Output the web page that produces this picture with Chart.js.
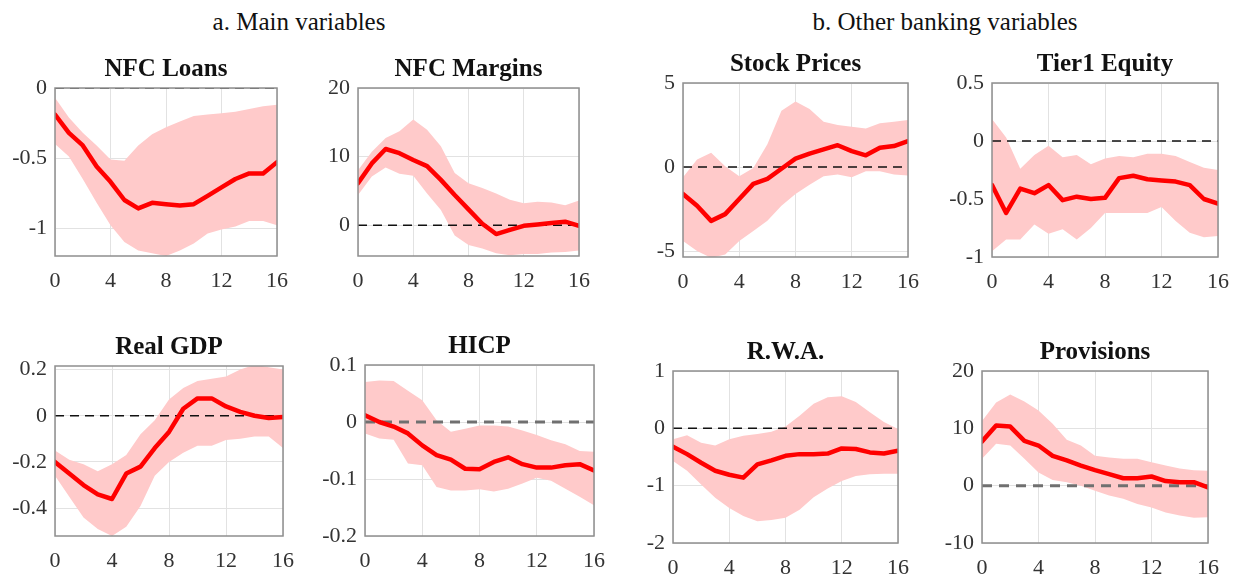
<!DOCTYPE html>
<html lang="en">
<head>
<meta charset="UTF-8">
<title>Impulse responses</title>
<script src="https://cdn.jsdelivr.net/npm/chart.js@4.4.0/dist/chart.umd.min.js"></script>
<style>
    body { margin: 0; background: #fff; width: 1249px; height: 578px; position: relative; overflow: hidden;
           font-family: 'Liberation Serif', 'Times New Roman', serif; }
    .head { position: absolute; top: 7px; font-size: 25px; line-height: 30px; color: #111;
            transform: translateX(-50%); white-space: nowrap; }
    canvas { position: absolute; }
</style>
</head>
<body>
<div class="head" style="left:299px">a. Main variables</div>
<div class="head" style="left:945px">b. Other banking variables</div>

<script>
    // horizon (quarters) and x ticks
    const horizon = [0, 1, 2, 3, 4, 5, 6, 7, 8, 9, 10, 11, 12, 13, 14, 15, 16];
    const xTicks = [0, 4, 8, 12, 16];

    // a. Main variables
    const nfcLoans   = [-0.19, -0.32, -0.41, -0.56, -0.67, -0.80, -0.86, -0.82, -0.83, -0.84, -0.83, -0.77, -0.71, -0.65, -0.61, -0.61, -0.53];
    const nfcLoansHi = [-0.07, -0.21, -0.32, -0.41, -0.51, -0.52, -0.41, -0.33, -0.28, -0.24, -0.20, -0.19, -0.18, -0.17, -0.15, -0.13, -0.12];
    const nfcLoansLo = [-0.40, -0.49, -0.65, -0.82, -0.98, -1.10, -1.16, -1.18, -1.20, -1.16, -1.11, -1.04, -1.01, -0.99, -0.95, -0.95, -0.98];

    const nfcMargins   = [6.1, 9.0, 11.1, 10.5, 9.5, 8.6, 6.6, 4.4, 2.3, 0.2, -1.3, -0.7, -0.1, 0.1, 0.3, 0.5, -0.1];
    const nfcMarginsHi = [8.0, 10.7, 12.7, 13.7, 15.4, 13.9, 11.5, 7.6, 6.1, 5.4, 4.6, 3.7, 3.2, 3.4, 3.3, 2.9, 3.6];
    const nfcMarginsLo = [4.4, 7.1, 8.4, 7.5, 7.2, 4.6, 2.2, -1.5, -2.9, -3.4, -4.1, -4.4, -4.2, -4.2, -4.0, -3.9, -3.7];

    const realGdp   = [-0.20, -0.25, -0.30, -0.34, -0.36, -0.25, -0.22, -0.14, -0.07, 0.03, 0.075, 0.075, 0.04, 0.017, 0.0, -0.01, -0.005];
    const realGdpHi = [-0.15, -0.19, -0.21, -0.24, -0.21, -0.17, -0.08, -0.02, 0.07, 0.12, 0.15, 0.16, 0.17, 0.20, 0.22, 0.21, 0.20];
    const realGdpLo = [-0.26, -0.35, -0.44, -0.49, -0.52, -0.48, -0.39, -0.26, -0.20, -0.16, -0.13, -0.13, -0.105, -0.10, -0.09, -0.09, -0.14];

    const hicp   = [0.012, 0.0, -0.008, -0.02, -0.041, -0.058, -0.066, -0.082, -0.083, -0.07, -0.062, -0.074, -0.08, -0.08, -0.076, -0.074, -0.085];
    const hicpHi = [0.07, 0.073, 0.072, 0.055, 0.038, 0.003, -0.017, -0.012, -0.006, -0.006, -0.008, -0.015, -0.023, -0.032, -0.039, -0.051, -0.052];
    const hicpLo = [-0.02, -0.029, -0.031, -0.073, -0.076, -0.114, -0.12, -0.12, -0.118, -0.122, -0.117, -0.108, -0.098, -0.103, -0.117, -0.131, -0.146];

    // b. Other banking variables
    const stockPrices   = [-1.6, -2.3, -3.2, -2.8, -1.9, -1.0, -0.7, -0.1, 0.5, 0.8, 1.05, 1.3, 0.95, 0.7, 1.15, 1.25, 1.55];
    const stockPricesHi = [-0.6, 0.45, 0.85, 0.05, -0.55, -0.05, 1.35, 3.35, 3.9, 3.45, 2.7, 2.5, 2.4, 2.3, 2.6, 2.7, 2.8];
    const stockPricesLo = [-4.4, -5.0, -5.4, -5.2, -4.4, -3.8, -3.2, -2.3, -1.6, -1.05, -0.55, -0.45, -0.6, -0.25, -0.25, -0.45, -0.5];

    const tier1   = [-0.38, -0.62, -0.41, -0.45, -0.38, -0.51, -0.48, -0.50, -0.49, -0.32, -0.30, -0.33, -0.34, -0.35, -0.38, -0.50, -0.54];
    const tier1Hi = [0.19, 0.03, -0.24, -0.12, -0.04, -0.14, -0.12, -0.20, -0.15, -0.13, -0.14, -0.11, -0.11, -0.13, -0.18, -0.23, -0.25];
    const tier1Lo = [-0.95, -0.85, -0.85, -0.72, -0.80, -0.76, -0.85, -0.75, -0.62, -0.62, -0.62, -0.62, -0.57, -0.69, -0.79, -0.83, -0.82];

    const rwa   = [-0.32, -0.45, -0.60, -0.74, -0.81, -0.86, -0.63, -0.56, -0.48, -0.45, -0.45, -0.44, -0.35, -0.36, -0.42, -0.44, -0.39];
    const rwaHi = [-0.19, -0.12, -0.25, -0.30, -0.19, -0.13, -0.10, -0.06, 0.03, 0.22, 0.43, 0.54, 0.56, 0.46, 0.28, 0.11, -0.01];
    const rwaLo = [-0.57, -0.74, -0.98, -1.21, -1.39, -1.53, -1.62, -1.60, -1.56, -1.42, -1.20, -1.05, -0.92, -0.83, -0.80, -0.79, -0.79];

    const provisions   = [7.7, 10.5, 10.3, 7.8, 7.0, 5.2, 4.4, 3.5, 2.7, 2.0, 1.3, 1.3, 1.6, 0.8, 0.6, 0.6, -0.3];
    const provisionsHi = [11.3, 14.5, 15.9, 14.7, 13.1, 10.8, 8.0, 7.0, 5.2, 4.9, 4.7, 4.7, 4.1, 3.5, 3.0, 2.7, 2.6];
    const provisionsLo = [4.7, 7.3, 7.0, 4.7, 2.3, 1.0, 0.6, 0.0, -0.9, -1.7, -2.3, -3.2, -3.8, -4.7, -5.2, -5.6, -5.5];

    // y ticks per panel
    const nfcLoansTicks = [-1, -0.5, 0];
    const nfcMarginsTicks = [0, 10, 20];
    const realGdpTicks = [-0.4, -0.2, 0, 0.2];
    const hicpTicks = [-0.2, -0.1, 0, 0.1];
    const stockTicks = [-5, 0, 5];
    const tier1Ticks = [-1, -0.5, 0, 0.5];
    const rwaTicks = [-2, -1, 0, 1];
    const provisionsTicks = [-10, 0, 10, 20];

    // panel layout: plot box [left, top, right, bottom] in page pixels
    const panels = [
        { title: 'NFC Loans',     mid: nfcLoans,    hi: nfcLoansHi,    lo: nfcLoansLo,    ticks: nfcLoansTicks,   min: -1.2,  max: 0,     box: [55, 88, 286, 256],    grayZero: false },
        { title: 'NFC Margins',   mid: nfcMargins,  hi: nfcMarginsHi,  lo: nfcMarginsLo,  ticks: nfcMarginsTicks, min: -4.5,  max: 20,    box: [358, 88, 588, 256],   grayZero: false },
        { title: 'Stock Prices',  mid: stockPrices, hi: stockPricesHi, lo: stockPricesLo, ticks: stockTicks,      min: -5.35, max: 5,     box: [683, 83, 917, 257],   grayZero: false },
        { title: 'Tier1 Equity',  mid: tier1,       hi: tier1Hi,       lo: tier1Lo,       ticks: tier1Ticks,      min: -1,    max: 0.5,   box: [992, 83, 1227, 257],  grayZero: false },
        { title: 'Real GDP',      mid: realGdp,     hi: realGdpHi,     lo: realGdpLo,     ticks: realGdpTicks,    min: -0.52, max: 0.215, box: [55, 366, 292, 536],   grayZero: false },
        { title: 'HICP',          mid: hicp,        hi: hicpHi,        lo: hicpLo,        ticks: hicpTicks,       min: -0.2,  max: 0.1,   box: [365, 365, 603, 536],  grayZero: true },
        { title: 'R.W.A.',        mid: rwa,         hi: rwaHi,         lo: rwaLo,         ticks: rwaTicks,        min: -2,    max: 1,     box: [673, 371, 907, 543],  grayZero: false },
        { title: 'Provisions',    mid: provisions,  hi: provisionsHi,  lo: provisionsLo,  ticks: provisionsTicks, min: -10,   max: 20,    box: [982, 371, 1217, 543], grayZero: true }
    ];

    const FONT = "'Liberation Serif', 'Times New Roman', serif";
    const Y_W = 60, X_H = 40, TITLE_H = 33, PAD_R = 14;

    // grey box round the plot area (matlab style)
    const framePlugin = {
        id: 'frame',
        afterDatasetsDraw(chart) {
            const a = chart.chartArea, c = chart.ctx;
            c.save();
            c.strokeStyle = '#8e8e8e';
            c.lineWidth = 1.5;
            c.strokeRect(a.left, a.top, a.right - a.left, a.bottom - a.top);
            c.restore();
        }
    };

    function pts(arr) {
        return horizon.map((h, i) => ({ x: h, y: arr[i] }));
    }

    panels.forEach(p => {
        const [L, T, R, B] = p.box;
        const cv = document.createElement('canvas');
        cv.width = (R - L) + Y_W + PAD_R;
        cv.height = (B - T) + TITLE_H + X_H;
        cv.style.left = (L - Y_W) + 'px';
        cv.style.top = (T - TITLE_H) + 'px';
        document.body.appendChild(cv);

        const zero = horizon.map(() => 0);

        new Chart(cv, {
            type: 'line',
            data: {
                datasets: [
                    { data: pts(p.mid), borderColor: '#ff0000', borderWidth: 4.5, borderJoinStyle: 'round', borderCapStyle: 'round',
                      pointRadius: 0, tension: 0, fill: false },
                    { data: pts(zero), borderColor: p.grayZero ? '#707070' : '#111111', borderWidth: p.grayZero ? 3 : 1.5,
                      borderDash: p.grayZero ? [10, 7] : [9, 6], pointRadius: 0, fill: false },
                    { data: pts(p.hi), borderWidth: 0, borderColor: 'rgba(0,0,0,0)', pointRadius: 0,
                      backgroundColor: '#ffcaca', fill: '+1' },
                    { data: pts(p.lo), borderWidth: 0, borderColor: 'rgba(0,0,0,0)', pointRadius: 0, fill: false }
                ]
            },
            options: {
                responsive: false,
                animation: false,
                layout: { padding: { right: PAD_R, left: 0, top: 0, bottom: 0 } },
                plugins: {
                    legend: { display: false },
                    tooltip: { enabled: false },
                    title: {
                        display: true,
                        text: p.title,
                        fullSize: false,
                        color: '#111',
                        font: { family: FONT, size: 25, weight: 'bold' },
                        padding: { top: 0, bottom: 3 }
                    }
                },
                scales: {
                    x: {
                        type: 'linear',
                        min: 0, max: 16,
                        afterBuildTicks: s => { s.ticks = xTicks.map(v => ({ value: v })); },
                        afterFit: s => { s.height = X_H; },
                        grid: { color: '#e2e2e2', lineWidth: 1, drawTicks: false },
                        border: { display: false },
                        ticks: { color: '#333', padding: 12, maxRotation: 0, font: { family: FONT, size: 22 } }
                    },
                    y: {
                        min: p.min, max: p.max,
                        afterBuildTicks: s => { s.ticks = p.ticks.map(v => ({ value: v })); },
                        afterFit: s => { s.width = Y_W; },
                        grid: { color: '#e2e2e2', lineWidth: 1, drawTicks: false },
                        border: { display: false },
                        ticks: { color: '#333', padding: 8, callback: v => String(v), font: { family: FONT, size: 22 } }
                    }
                }
            },
            plugins: [framePlugin]
        });
    });
</script>
</body>
</html>
